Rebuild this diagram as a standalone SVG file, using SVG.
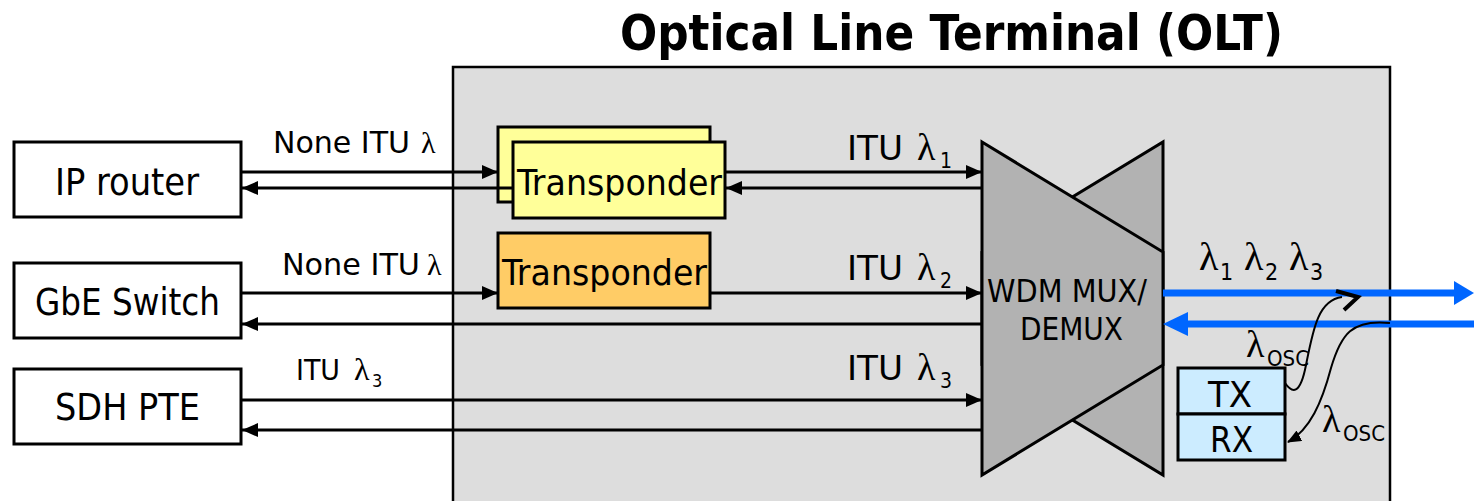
<svg xmlns="http://www.w3.org/2000/svg" width="1474" height="501" viewBox="0 0 1474 501">
<style>
.t{font-family:"DejaVu Sans Condensed","DejaVu Sans",sans-serif;fill:#000}
.g{font-family:"Liberation Serif","DejaVu Serif",serif}
.ln{stroke:#000;stroke-width:3;fill:none}
.thin{stroke:#000;stroke-width:2;fill:none}
.box{fill:#fff;stroke:#000;stroke-width:3}
.blue{stroke:#0066ff;stroke-width:7;fill:none}
</style>
<defs>
<marker id="ah" markerUnits="userSpaceOnUse" markerWidth="16" markerHeight="14" refX="16" refY="7" orient="auto">
<path d="M0,0 L16,7 L0,14 z" fill="#000"/>
</marker>
<marker id="ahs" markerUnits="userSpaceOnUse" markerWidth="14" markerHeight="12" refX="13" refY="6" orient="auto">
<path d="M0,0 L14,6 L0,12 z" fill="#000"/>
</marker>
</defs>
<rect width="1474" height="501" fill="#fff"/>
<g id="title"><text class="t" x="620" y="50" font-size="49" font-weight="bold" textLength="663" lengthAdjust="spacingAndGlyphs">Optical Line Terminal (OLT)</text></g>
<g id="olt"><rect x="453" y="67" width="937" height="450" fill="#dddddd" stroke="#000" stroke-width="2.5"/></g>
<g id="ip-router"><rect class="box" x="14" y="142" width="227" height="75"/><text class="t" x="55" y="195" font-size="37" textLength="144" lengthAdjust="spacingAndGlyphs">IP router</text></g>
<g id="gbe-switch"><rect class="box" x="14" y="263" width="227" height="75"/><text class="t" x="35" y="315" font-size="37" textLength="185" lengthAdjust="spacingAndGlyphs">GbE Switch</text></g>
<g id="sdh-pte"><rect class="box" x="14" y="369" width="227" height="75"/><text class="t" x="55" y="420" font-size="37" textLength="145" lengthAdjust="spacingAndGlyphs">SDH PTE</text></g>
<g id="transponder1">
<rect x="498" y="127" width="212" height="75" fill="#ffff99" stroke="#000" stroke-width="3"/>
<rect x="513" y="142" width="212" height="76" fill="#ffff99" stroke="#000" stroke-width="3"/>
<text class="t" x="517" y="195" font-size="35" textLength="205" lengthAdjust="spacingAndGlyphs">Transponder</text>
</g>
<g id="transponder2">
<rect x="498" y="233" width="212" height="75" fill="#ffcc66" stroke="#000" stroke-width="3"/>
<text class="t" x="502" y="285" font-size="35" textLength="205" lengthAdjust="spacingAndGlyphs">Transponder</text>
</g>
<g id="wdm-mux">
<polygon points="1163,142 1163,475 982,365 982,252" fill="#b2b2b2" stroke="#000" stroke-width="3"/>
<polygon points="982,142 1163,252 1163,365 982,475" fill="#b2b2b2" stroke="#000" stroke-width="3"/>
<text class="t" x="987" y="302" font-size="32" textLength="160" lengthAdjust="spacingAndGlyphs">WDM MUX/</text>
<text class="t" x="1020" y="340" font-size="32" textLength="103" lengthAdjust="spacingAndGlyphs">DEMUX</text>
</g>
<g id="tx"><rect x="1178" y="368" width="107" height="46" fill="#ccecff" stroke="#000" stroke-width="3"/><text class="t" x="1208" y="407" font-size="36" textLength="44" lengthAdjust="spacingAndGlyphs">TX</text></g>
<g id="rx"><rect x="1178" y="414" width="107" height="46" fill="#ccecff" stroke="#000" stroke-width="3"/><text class="t" x="1210" y="452" font-size="36" textLength="43" lengthAdjust="spacingAndGlyphs">RX</text></g>
<g id="connectors">
<line class="ln" x1="241" y1="172" x2="498" y2="172" marker-end="url(#ah)"/>
<line class="ln" x1="513" y1="188" x2="242" y2="188" marker-end="url(#ah)"/>
<line class="ln" x1="725" y1="172" x2="982" y2="172" marker-end="url(#ah)"/>
<line class="ln" x1="982" y1="188" x2="726" y2="188" marker-end="url(#ah)"/>
<line class="ln" x1="241" y1="293" x2="498" y2="293" marker-end="url(#ah)"/>
<line class="ln" x1="710" y1="293" x2="982" y2="293" marker-end="url(#ah)"/>
<line class="ln" x1="982" y1="324" x2="242" y2="324" marker-end="url(#ah)"/>
<line class="ln" x1="241" y1="400" x2="982" y2="400" marker-end="url(#ah)"/>
<line class="ln" x1="982" y1="430" x2="242" y2="430" marker-end="url(#ah)"/>
<line class="blue" x1="1163" y1="293" x2="1456" y2="293"/>
<polygon points="1454,281 1474,293 1454,305" fill="#0066ff"/>
<line class="blue" x1="1474" y1="324" x2="1185" y2="324"/>
<polygon points="1188,312 1163,324 1188,336" fill="#0066ff"/>
<polyline points="1336,291 1358,297 1344,310" fill="none" stroke="#000" stroke-width="4"/>
<path class="thin" d="M1285,383 C1292,393 1300,396 1306,365 C1313,330 1318,300 1342,297"/>
<path class="thin" d="M1390,323 C1352,319 1341,334 1331,368 C1322,402 1310,430 1288,442" marker-end="url(#ahs)"/>
</g>
<g id="labels">
<text class="t" x="273" y="153" font-size="30"><tspan textLength="137" lengthAdjust="spacingAndGlyphs">None ITU</tspan> <tspan class="g" x="421" font-size="30">λ</tspan></text>
<text class="t" x="282" y="275" font-size="30"><tspan textLength="138" lengthAdjust="spacingAndGlyphs">None ITU</tspan> <tspan class="g" x="427" font-size="30">λ</tspan></text>
<text class="t" x="847" y="160" font-size="34"><tspan textLength="56" lengthAdjust="spacingAndGlyphs">ITU</tspan> <tspan class="g" x="917" font-size="38">λ</tspan><tspan x="940" y="168" font-size="21">1</tspan></text>
<text class="t" x="847" y="280" font-size="34"><tspan textLength="56" lengthAdjust="spacingAndGlyphs">ITU</tspan> <tspan class="g" x="917" font-size="38">λ</tspan><tspan x="940" y="288" font-size="21">2</tspan></text>
<text class="t" x="847" y="380" font-size="34"><tspan textLength="56" lengthAdjust="spacingAndGlyphs">ITU</tspan> <tspan class="g" x="917" font-size="38">λ</tspan><tspan x="940" y="388" font-size="21">3</tspan></text>
<text class="t" x="296" y="380" font-size="29"><tspan textLength="44" lengthAdjust="spacingAndGlyphs">ITU</tspan> <tspan class="g" x="354" font-size="32">λ</tspan><tspan x="372" y="387" font-size="18">3</tspan></text>
<text class="t" x="1199" y="270" font-size="34"><tspan class="g" font-size="40">λ</tspan><tspan x="1220" y="280" font-size="23">1</tspan><tspan class="g" x="1244" y="270" font-size="40">λ</tspan><tspan x="1265" y="280" font-size="23">2</tspan><tspan class="g" x="1289" y="270" font-size="40">λ</tspan><tspan x="1310" y="280" font-size="23">3</tspan></text>
<text class="t" x="1246" y="357"><tspan class="g" font-size="38">λ</tspan><tspan x="1267" y="366" font-size="22">OSC</tspan></text>
<text class="t" x="1322" y="432"><tspan class="g" font-size="38">λ</tspan><tspan x="1343" y="441" font-size="22">OSC</tspan></text>
</g>
</svg>
